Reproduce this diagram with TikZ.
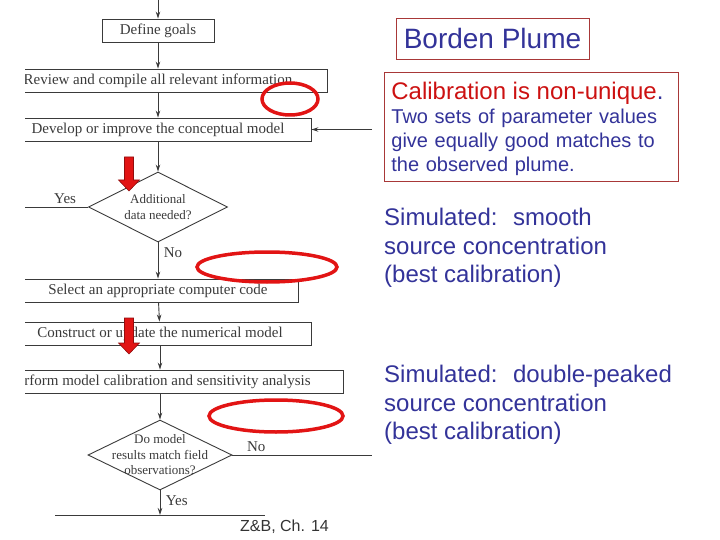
\documentclass[tikz,border=0pt]{standalone}
\usepackage{fontspec}
\setmainfont{Liberation Sans}
\newfontfamily\scanfont{Liberation Serif}
\usepackage{tikz}
\usetikzlibrary{positioning, shapes.geometric, arrows.meta}
\definecolor{scanline}{HTML}{3A3A3A}
\definecolor{slideblue}{HTML}{333399}
\definecolor{slidered}{HTML}{CC1111}
\definecolor{boxred}{HTML}{A83838}
\definecolor{markred}{HTML}{E21414}
\tikzset{flowbox/.style={
        draw=scanline,
        rectangle,
        line width=0.9pt,
        minimum height=23pt,
        inner sep=0pt,
        font=\scanfont\fontsize{15}{18}\selectfont,
        text=scanline
}}
\tikzset{decision/.style={
        draw=scanline,
        diamond,
        line width=0.9pt,
        inner sep=0pt,
        minimum height=70pt
}}
\tikzset{decisiontext/.style={
        font=\scanfont\fontsize{13}{15.5}\selectfont,
        text=scanline,
        align=center
}}
\tikzset{flowlabel/.style={font=\scanfont\fontsize{15}{18}\selectfont,text=scanline}}
\tikzset{flowedge/.style={draw=scanline,line width=0.9pt,-{Stealth[length=7pt,width=4.5pt]}}}
\tikzset{circled/.style={draw=markred,line width=3.5pt}}
\tikzset{blockarrow/.style={fill=markred,draw=markred!65!black,line width=0.6pt}}
\tikzset{slidebox/.style={
        draw=boxred,
        rectangle,
        line width=0.8pt,
        text=slideblue
}}
\tikzset{slidetext/.style={
        align=left,
        anchor=north west,
        inner sep=0pt,
        text=slideblue,
        font=\fontsize{24}{28.5}\selectfont
}}

\begin{document}
\begin{tikzpicture}[x=1pt,y=-1pt]
\useasboundingbox (0,0) rectangle (720,540);

\begin{scope}
\clip (25,0) rectangle (375,520);
\node[flowbox, minimum width=112pt] (goals) at (158,30.5) {Define goals};
\node[flowbox, minimum width=338pt] (review) at (158,80.5) {Review and compile all relevant information};
\node[flowbox, minimum width=306pt] (concept) at (158,129.5) {Develop or improve the conceptual model};
\node[decision, minimum width=139pt,
      label={[decisiontext]center:Additional\\data needed?}] (moredata) at (158,207) {};
\node[flowbox, minimum width=280pt] (code) at (158,290.5) {Select an appropriate computer code};
\node[flowbox, minimum width=302pt] (build) at (160,333.5) {Construct or update the numerical model};
\node[flowbox, minimum width=366pt] (calib) at (160,381.5) {Perform model calibration and sensitivity analysis};
\node[decision, minimum width=144pt,
      label={[decisiontext]center:Do model\\results match field\\observations?}] (match) at (160,455) {};

\coordinate (entry) at (158,0);
\coordinate (yesend) at (0,207);
\coordinate (feedback) at (372,129.5);
\coordinate (noend) at (372,455);
\coordinate (nextl) at (55,515);
\coordinate (nextr) at (265,515);

\draw[flowedge] (entry) -- (goals);
\draw[flowedge] (goals) -- (review);
\draw[flowedge] (review) -- (concept);
\draw[flowedge] (feedback) -- (concept);
\draw[flowedge] (concept) -- (moredata);
\draw[draw=scanline, line width=0.9pt] (moredata.west) -- node[flowlabel, above, pos=0.26] {Yes} (yesend);
\draw[flowedge] (moredata) -- node[flowlabel, right=2pt, pos=0.27] {No} (code);
\draw[flowedge] (code) -- (build);
\draw[flowedge] (build) -- (calib);
\draw[flowedge] (calib) -- (match);
\draw[draw=scanline, line width=0.9pt] (match.east) -- node[flowlabel, above, pos=0.17] {No} (noend);
\draw[flowedge] (match) -- node[flowlabel, right=2pt, pos=0.42] {Yes} (match |- nextl);
\draw[draw=scanline, line width=0.9pt] (nextl) -- (nextr);
\end{scope}

\draw[circled] (290,99) ellipse [x radius=28pt, y radius=16pt];
\draw[circled] (267,267) ellipse [x radius=70pt, y radius=15pt];
\draw[circled] (276,416) ellipse [x radius=67pt, y radius=16pt];

\draw[blockarrow] (124.5,157) -- (133.5,157) -- (133.5,180) -- (139.5,180) -- (129,191) -- (118.5,180) -- (124.5,180) -- cycle;
\draw[blockarrow] (124.5,318) -- (133.5,318) -- (133.5,343) -- (139.5,343) -- (129,354) -- (118.5,343) -- (124.5,343) -- cycle;

\node[slidebox, minimum width=193pt, minimum height=41pt, font=\fontsize{28}{34}\selectfont] (title) at (492.5,38.5) {Borden Plume};
\node[slidebox, anchor=north west, align=left, text width=280pt, inner xsep=7pt, inner ysep=10pt,
      font=\fontsize{20}{24}\selectfont] (nonunique) at (384,72)
      {{\color{slidered}\fontsize{24}{24}\selectfont Calibration is non-unique}{\fontsize{24}{24}\selectfont .}\\
       Two sets of parameter values\\give equally good matches to\\\smash{the observed plume.}};

\node[slidetext] (smooth) at (384,208) {Simulated:~ smooth\\source concentration\\(best calibration)};
\node[slidetext] (peaked) at (384,365) {Simulated:~ double-peaked\\source concentration\\(best calibration)};

\node[font=\fontsize{16}{19}\selectfont, text=black!80] (zb) at (284.5,527) {Z\&B, Ch. 14};
\end{tikzpicture}
\end{document}
